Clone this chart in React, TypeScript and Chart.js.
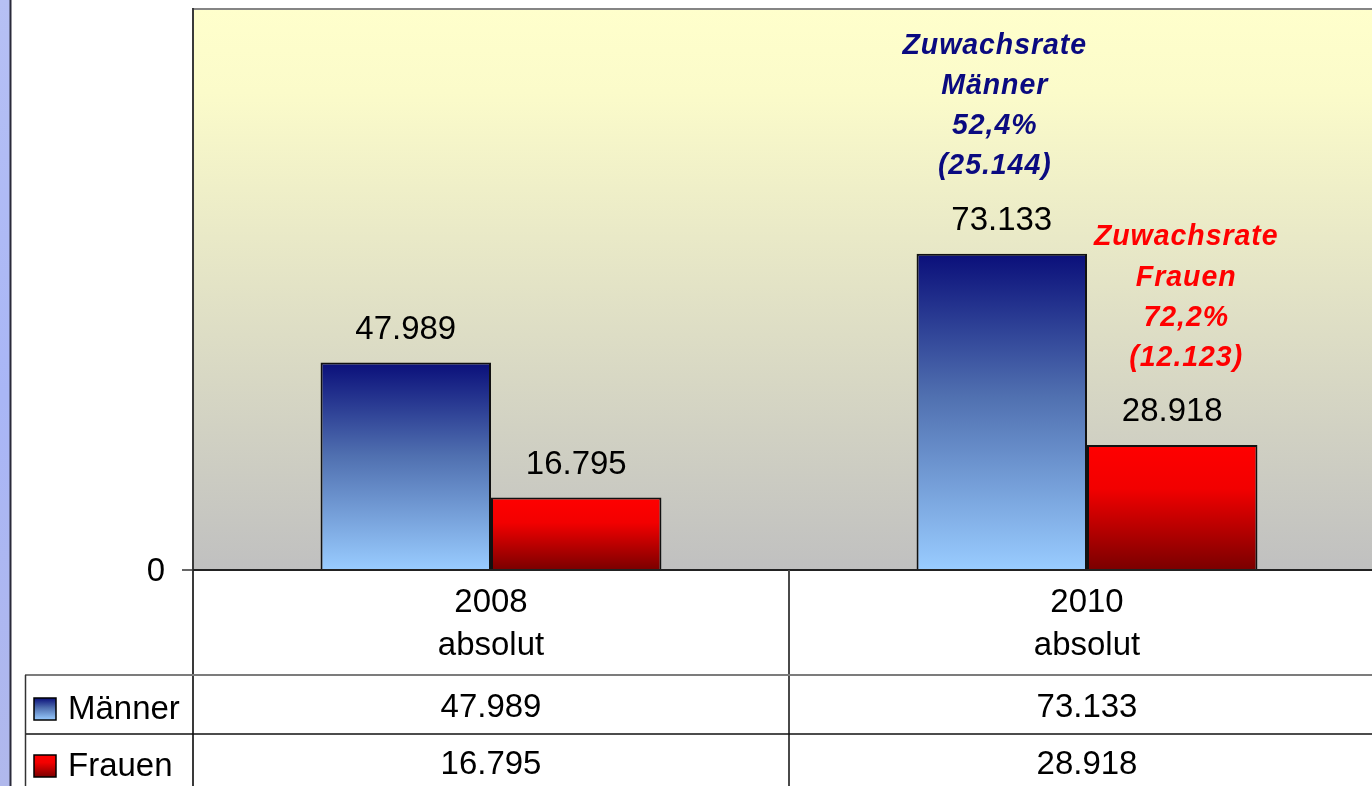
import React, { useEffect, useRef } from "react";
import { Chart, registerables } from "chart.js";

Chart.register(...registerables);

const categories = ["2008", "2010"];
const categorySub = ["absolut", "absolut"];
const seriesNames = ["Männer", "Frauen"];
const maenner = [47989, 73133];
const frauen = [16795, 28918];
const yTicks = [0];
const yMax = 130000;
const growthMaenner = ["Zuwachsrate", "Männer", "52,4%", "(25.144)"];
const growthFrauen = ["Zuwachsrate", "Frauen", "72,2%", "(12.123)"];

const FONT = '"Liberation Sans", Arial, sans-serif';
const TEXT_FONT = `34px ${FONT}`;
const TEXT_SX = 0.97;

const fmt = (v: number) => String(v).replace(/\B(?=(\d{3})+(?!\d))/g, ".");

function txt(ctx: CanvasRenderingContext2D, s: string, x: number, y: number, sx: number) {
  ctx.save();
  ctx.translate(x, y);
  ctx.scale(sx, 1);
  ctx.fillText(s, 0, 0);
  ctx.restore();
}

function blueGrad(c: CanvasRenderingContext2D, top: number, base: number) {
  const g = c.createLinearGradient(0, top, 0, base);
  g.addColorStop(0, "#0A0F7A");
  g.addColorStop(0.45, "#5070B0");
  g.addColorStop(1, "#99CCFF");
  return g;
}
function redGrad(c: CanvasRenderingContext2D, top: number, base: number) {
  const g = c.createLinearGradient(0, top, 0, base);
  g.addColorStop(0, "#FF0000");
  g.addColorStop(0.35, "#F20000");
  g.addColorStop(1, "#7A0000");
  return g;
}

const tablePlugin = {
  id: "tablePlugin",
  beforeDatasetsDraw(chart: any) {
    const { ctx, chartArea } = chart;
    const { left, top, right, bottom } = chartArea;
    ctx.save();
    const g = ctx.createLinearGradient(0, top, 0, bottom);
    g.addColorStop(0, "#FFFFCC");
    g.addColorStop(0.15, "#FBFBCA");
    g.addColorStop(1, "#C0C0C0");
    ctx.fillStyle = g;
    ctx.fillRect(left, top, right - left, bottom - top);
    ctx.restore();
  },
  beforeDraw(chart: any) {
    const { ctx, width, height } = chart;
    ctx.save();
    ctx.fillStyle = "#FFFFFF";
    ctx.fillRect(0, 0, width, height);
    const sg = ctx.createLinearGradient(0, 0, 0, height);
    sg.addColorStop(0, "#B6C0F4");
    sg.addColorStop(0.5, "#A9B6F6");
    sg.addColorStop(1, "#B0B8EC");
    ctx.fillStyle = sg;
    ctx.fillRect(0, 0, 10, height);
    ctx.fillStyle = "#2A2A3A";
    ctx.fillRect(9.5, 0, 2, height);
    ctx.restore();
  },
  afterDatasetsDraw(chart: any) {
    const { ctx, chartArea, scales } = chart;
    const { left, top, right, bottom } = chartArea;
    const x = scales.x;
    const y = scales.y;
    ctx.save();

    // plot border top
    ctx.strokeStyle = "#858585";
    ctx.lineWidth = 2;
    ctx.beginPath();
    ctx.moveTo(left, top + 1);
    ctx.lineTo(right, top + 1);
    ctx.stroke();

    // left axis line (continues through table)
    ctx.strokeStyle = "#3A3A3A";
    ctx.lineWidth = 2;
    ctx.beginPath();
    ctx.moveTo(left, top);
    ctx.lineTo(left, chart.height);
    ctx.stroke();

    // y ticks
    ctx.font = TEXT_FONT;
    ctx.fillStyle = "#000";
    ctx.textAlign = "right";
    ctx.textBaseline = "middle";
    yTicks.forEach((t) => {
      const py = y.getPixelForValue(t);
      ctx.beginPath();
      ctx.strokeStyle = "#333";
      ctx.lineWidth = 1.5;
      ctx.moveTo(left - 11, py);
      ctx.lineTo(left, py);
      ctx.stroke();
      txt(ctx, String(t), left - 28, py + 2, TEXT_SX);
    });

    // x axis line
    ctx.strokeStyle = "#222";
    ctx.lineWidth = 2;
    ctx.beginPath();
    ctx.moveTo(left, bottom);
    ctx.lineTo(right, bottom);
    ctx.stroke();

    // value labels above bars
    ctx.textAlign = "center";
    ctx.textBaseline = "middle";
    ctx.font = TEXT_FONT;
    ctx.fillStyle = "#000";
    chart.data.datasets.forEach((ds: any, di: number) => {
      const meta = chart.getDatasetMeta(di);
      meta.data.forEach((bar: any, i: number) => {
        txt(ctx, fmt(ds.data[i]), bar.x, bar.y - 33, TEXT_SX);
      });
    });

    // growth annotations
    ctx.font = `italic bold 30px ${FONT}`;
    (ctx as any).letterSpacing = "1px";
    const mBar = chart.getDatasetMeta(0).data[1];
    const fBar = chart.getDatasetMeta(1).data[1];
    ctx.fillStyle = "#0A0A80";
    growthMaenner.forEach((line, i) => {
      txt(ctx, line, mBar.x - 7, mBar.y - 208 + i * 40, 0.95);
    });
    ctx.fillStyle = "#FF0000";
    growthFrauen.forEach((line, i) => {
      txt(ctx, line, fBar.x + 14, fBar.y - 208 + i * 40.3, 0.95);
    });
    (ctx as any).letterSpacing = "0px";

    // ---- data table ----
    const H = chart.height;
    const boundary = (x.getPixelForValue(0) + x.getPixelForValue(1)) / 2;
    const rowLine1 = 675;
    const rowLine2 = 734;

    ctx.strokeStyle = "#4A4A4A";
    ctx.lineWidth = 2;
    ctx.beginPath();
    ctx.moveTo(boundary, bottom);
    ctx.lineTo(boundary, H);
    ctx.stroke();

    ctx.strokeStyle = "#7C7C7C";
    ctx.lineWidth = 2;
    ctx.beginPath();
    ctx.moveTo(25, rowLine1);
    ctx.lineTo(right, rowLine1);
    ctx.stroke();
    ctx.strokeStyle = "#111";
    ctx.lineWidth = 1.5;
    ctx.beginPath();
    ctx.moveTo(26, rowLine2);
    ctx.lineTo(right, rowLine2);
    ctx.stroke();
    ctx.strokeStyle = "#333";
    ctx.lineWidth = 1.5;
    ctx.beginPath();
    ctx.moveTo(25.5, rowLine1);
    ctx.lineTo(25.5, H);
    ctx.stroke();

    ctx.fillStyle = "#000";
    ctx.font = TEXT_FONT;
    ctx.textAlign = "center";
    categories.forEach((c, i) => {
      const cx = x.getPixelForValue(i);
      txt(ctx, c, cx, 603, TEXT_SX);
      txt(ctx, categorySub[i], cx, 646, TEXT_SX);
      txt(ctx, fmt(maenner[i]), cx, 708, TEXT_SX);
      txt(ctx, fmt(frauen[i]), cx, 765, TEXT_SX);
    });

    const rows = [
      { name: seriesNames[0], y0: 698, grad: blueGrad },
      { name: seriesNames[1], y0: 755, grad: redGrad },
    ];
    rows.forEach((r) => {
      ctx.fillStyle = r.grad(ctx, r.y0, r.y0 + 22);
      ctx.fillRect(34, r.y0, 22, 22);
      ctx.strokeStyle = "#000";
      ctx.lineWidth = 1.5;
      ctx.strokeRect(34, r.y0, 22, 22);
      ctx.fillStyle = "#000";
      ctx.textAlign = "left";
      txt(ctx, r.name, 68, r.y0 + 12, TEXT_SX);
    });

    ctx.restore();
  },
};

export default function App() {
  const ref = useRef<HTMLCanvasElement | null>(null);
  useEffect(() => {
    if (!ref.current) return;
    const chart = new Chart(ref.current, {
      type: "bar",
      data: {
        labels: categories,
        datasets: [
          {
            label: seriesNames[0],
            data: maenner,
            backgroundColor: (c: any) => {
              const ch = c.chart;
              if (!ch.chartArea || c.raw === undefined) return "#5070B0";
              const t = ch.scales.y.getPixelForValue(c.raw);
              const b = ch.scales.y.getPixelForValue(0);
              return blueGrad(ch.ctx, t, b);
            },
            borderColor: "#111",
            borderWidth: 2,
          },
          {
            label: seriesNames[1],
            data: frauen,
            backgroundColor: (c: any) => {
              const ch = c.chart;
              if (!ch.chartArea || c.raw === undefined) return "#FF0000";
              const t = ch.scales.y.getPixelForValue(c.raw);
              const b = ch.scales.y.getPixelForValue(0);
              return redGrad(ch.ctx, t, b);
            },
            borderColor: "#111",
            borderWidth: 2,
          },
        ],
      },
      options: {
        responsive: false,
        animation: false,
        devicePixelRatio: 1,
        layout: { padding: { left: 193, top: 8, right: 15, bottom: 216 } },
        datasets: { bar: { barPercentage: 1, categoryPercentage: 0.572 } },
        plugins: { legend: { display: false }, tooltip: { enabled: false }, title: { display: false } },
        scales: {
          x: { display: false, offset: true },
          y: { display: false, min: 0, max: yMax },
        },
      } as any,
      plugins: [tablePlugin],
    });
    return () => chart.destroy();
  }, []);
  return (
    <div
      style={{
        position: "fixed",
        left: 0,
        top: 0,
        width: 1372,
        height: 786,
        overflow: "hidden",
        background: "#fff",
      }}
    >
      <canvas ref={ref} width={1400} height={786} style={{ display: "block" }} />
    </div>
  );
}
